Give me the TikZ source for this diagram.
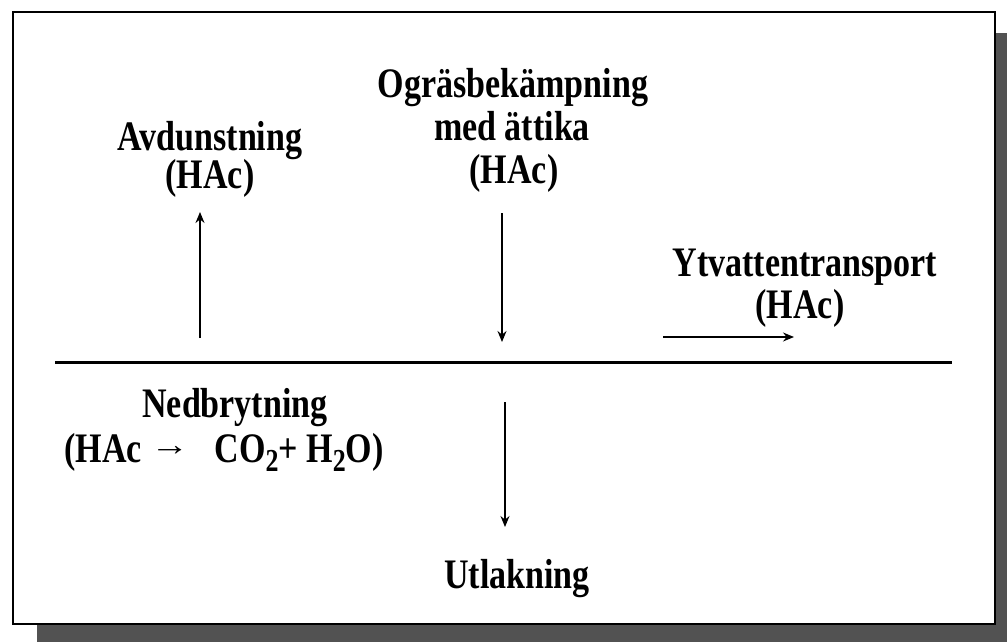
\documentclass[tikz,border=0pt]{standalone}
\usepackage{graphicx}
\usepackage{fontspec}
\setmainfont{Liberation Serif}[FakeStretch=0.81]
\usetikzlibrary{arrows.meta}
\begin{document}
\begin{tikzpicture}[x=1pt,y=-1pt,
  lbl/.style={font=\bfseries\fontsize{42}{44}\selectfont, inner sep=0pt, anchor=base},
  arr/.style={line width=1.5pt, -{Stealth[length=11pt,width=9pt]}},
  shadowfill/.style={fill=black!68, draw=none},
  frame/.style={line width=1.6pt, draw=black},
  ground/.style={line width=3pt}]
\useasboundingbox (0,0) rectangle (1007,642);
\fill[white] (0,0) rectangle (1007,642);
\path[shadowfill] (995,33) rectangle (1007,642);
\path[shadowfill] (37,624) rectangle (1007,642);
\draw[frame] (13,12) rectangle (995,624);
% ground line
\coordinate (gl) at (55,362);
\coordinate (gr) at (952,362);
\draw[ground] (gl) -- (gr);
% texts
\node[lbl] (avd1) at (210,150) {Avdunstning};
\node[lbl] (avd2) at (210,188) {(HAc)};
\node[lbl] (ogr1) at (513,97) {Ogräsbekämpning};
\node[lbl] (ogr2) at (512,140) {med ättika};
\node[lbl] (ogr3) at (514,183) {(HAc)};
\node[lbl] (ytv1) at (805,276) {Ytvattentransport};
\node[lbl] (ytv2) at (800,318) {(HAc)};
\node[lbl] (ned1) at (235,417) {Nedbrytning};
\node[lbl] (ned2) at (224,462) {(HAc \raisebox{7pt}[0pt][0pt]{\scalebox{1.5}[1]{\fontsize{32}{32}\selectfont →}}\hspace{0.6em}CO\raisebox{-9pt}[0pt][0pt]{\fontsize{32}{32}\selectfont 2}+ H\raisebox{-9pt}[0pt][0pt]{\fontsize{32}{32}\selectfont 2}O)};
\node[lbl] (utl) at (517,588) {Utlakning};
% arrows
\coordinate (a1s) at (200,338);
\coordinate (a1e) at (200,212);
\draw[arr] (a1s) -- (a1e);
\coordinate (a2s) at (502,213);
\coordinate (a2e) at (502,342);
\draw[arr] (a2s) -- (a2e);
\coordinate (a3s) at (505,402);
\coordinate (a3e) at (505,527);
\draw[arr] (a3s) -- (a3e);
\coordinate (a4s) at (663,337);
\coordinate (a4e) at (794,337);
\draw[arr] (a4s) -- (a4e);
\end{tikzpicture}
\end{document}
